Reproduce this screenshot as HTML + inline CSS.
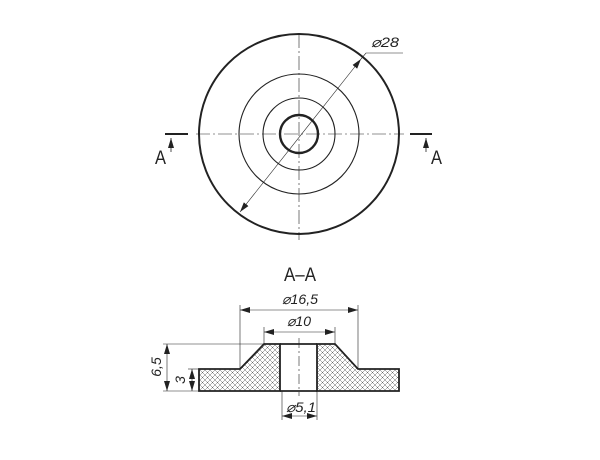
<!DOCTYPE html>
<html><head><style>body{margin:0;background:#fff}svg{display:block}text{font-family:"Liberation Sans",sans-serif;font-style:italic;fill:#222}</style></head><body>
<svg width="600" height="460" viewBox="0 0 600 460" xmlns="http://www.w3.org/2000/svg">
<defs>
<pattern id="h" width="5" height="5" patternUnits="userSpaceOnUse">
<path d="M0,0L5,5M5,0L0,5" stroke="#666" stroke-width="0.5"/>
</pattern>
<marker id="a" viewBox="0 0 10 6" refX="10" refY="3" markerWidth="10" markerHeight="6" orient="auto-start-reverse" markerUnits="userSpaceOnUse"><path d="M0,0L10,3L0,6z" fill="#222"/></marker>
</defs>
<g fill="none" stroke="#222">
<line x1="299" y1="34" x2="299" y2="240" stroke-width="0.6" stroke-dasharray="14,3,2,3"/>
<line x1="196" y1="134" x2="404" y2="134" stroke-width="0.6" stroke-dasharray="14,3,2,3"/>
<circle cx="299" cy="134" r="100" stroke-width="2"/>
<circle cx="299" cy="134" r="60" stroke-width="1.1"/>
<circle cx="299" cy="134" r="36" stroke-width="1.1"/>
<circle cx="299" cy="134" r="19" stroke-width="2.4"/>
<line x1="240" y1="212" x2="361" y2="59" stroke-width="0.6" marker-start="url(#a)" marker-end="url(#a)"/>
<polyline points="361,59 366,53 403,53" stroke-width="0.6"/>
<line x1="165" y1="134" x2="188" y2="134" stroke-width="2"/>
<line x1="171" y1="152" x2="171" y2="138" stroke-width="0.8" marker-end="url(#a)"/>
<line x1="410" y1="134" x2="432" y2="134" stroke-width="2"/>
<line x1="426" y1="152" x2="426" y2="138" stroke-width="0.8" marker-end="url(#a)"/>
<path d="M199,369H240L264,344H280V391H199Z" fill="url(#h)" stroke-width="1.8"/>
<path d="M317,344H335L358,369H399V391H317Z" fill="url(#h)" stroke-width="1.8"/>
<line x1="280" y1="344" x2="317" y2="344" stroke-width="1.8"/>
<line x1="280" y1="391" x2="317" y2="391" stroke-width="1.8"/>
<line x1="299" y1="338" x2="299" y2="396" stroke-width="0.6" stroke-dasharray="10,3,2,3"/>
<line x1="240" y1="369" x2="240" y2="305" stroke-width="0.6"/>
<line x1="358" y1="369" x2="358" y2="305" stroke-width="0.6"/>
<line x1="240" y1="310" x2="358" y2="310" stroke-width="0.6" marker-start="url(#a)" marker-end="url(#a)"/>
<line x1="264" y1="344" x2="264" y2="327" stroke-width="0.6"/>
<line x1="335" y1="344" x2="335" y2="327" stroke-width="0.6"/>
<line x1="264" y1="332" x2="335" y2="332" stroke-width="0.6" marker-start="url(#a)" marker-end="url(#a)"/>
<line x1="282" y1="391" x2="282" y2="420" stroke-width="0.6"/>
<line x1="317" y1="391" x2="317" y2="420" stroke-width="0.6"/>
<line x1="282" y1="416" x2="317" y2="416" stroke-width="0.6" marker-start="url(#a)" marker-end="url(#a)"/>
<line x1="163" y1="344" x2="264" y2="344" stroke-width="0.6"/>
<line x1="163" y1="391" x2="199" y2="391" stroke-width="0.6"/>
<line x1="188" y1="369" x2="199" y2="369" stroke-width="0.6"/>
<line x1="167" y1="344" x2="167" y2="391" stroke-width="0.6" marker-start="url(#a)" marker-end="url(#a)"/>
<line x1="192" y1="369" x2="192" y2="391" stroke-width="0.6" marker-start="url(#a)" marker-end="url(#a)"/>
</g>
<text x="371" y="47" font-size="14" textLength="28" lengthAdjust="spacingAndGlyphs">⌀28</text>
<text x="155" y="164" font-size="19" textLength="11" lengthAdjust="spacingAndGlyphs" style="font-style:normal">A</text>
<text x="431" y="164" font-size="19" textLength="11" lengthAdjust="spacingAndGlyphs" style="font-style:normal">A</text>
<text x="284" y="281" font-size="19" textLength="32" lengthAdjust="spacingAndGlyphs" style="font-style:normal">A–A</text>
<text x="282" y="304" font-size="14" textLength="36" lengthAdjust="spacingAndGlyphs">⌀16,5</text>
<text x="287" y="326" font-size="14" textLength="24" lengthAdjust="spacingAndGlyphs">⌀10</text>
<text x="286" y="412" font-size="14" textLength="30" lengthAdjust="spacingAndGlyphs">⌀5,1</text>
<text x="0" y="0" font-size="14" text-anchor="middle" transform="translate(161,367) rotate(-90)">6,5</text>
<text x="0" y="0" font-size="14" text-anchor="middle" transform="translate(185,380) rotate(-90)">3</text>
</svg>
</body></html>
